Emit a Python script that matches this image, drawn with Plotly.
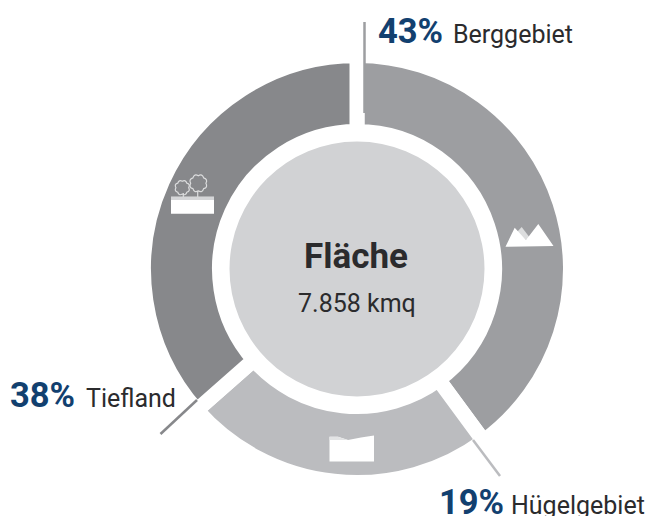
import math
import plotly.graph_objects as go

W, H = 650, 516
# Names and printed shares
categories = ["Berggebiet", "Hügelgebiet", "Tiefland"]
share_labels = ["43%", "19%", "38%"]
# Slice sizes as drawn in the picture (the ring's angles differ from the printed shares)
slice_values = [39.9, 23.6, 36.5]
slice_colors = ["#9d9ea1", "#bbbcbf", "#87888b"]
center_title = "Fläche"
center_value = "7.858 kmq"

CX, CY = 357, 269
GAP = 15
R_OUT = 206 + GAP / 2
R_IN = 145 - GAP / 2
NAVY = "#12406f"
DARK = "#2b2b2d"


def px(x):
    return x / W


def py(y):
    return 1 - y / H


fig = go.Figure(go.Pie(
    values=slice_values, labels=categories, sort=False, direction="clockwise", rotation=0,
    hole=R_IN / R_OUT, textinfo="none", hoverinfo="label", showlegend=False,
    marker=dict(colors=slice_colors, line=dict(color="white", width=GAP)),
    domain=dict(x=[px(CX - R_OUT), px(CX + R_OUT)], y=[py(CY + R_OUT), py(CY - R_OUT)]),
))


def poly(points, fill):
    d = "M" + " L".join(f"{px(x):.5f},{py(y):.5f}" for x, y in points) + " Z"
    return dict(type="path", xref="paper", yref="paper", path=d, fillcolor=fill, line=dict(width=0))


def line(x0, y0, x1, y1, color, width=2.5):
    return dict(type="line", xref="paper", yref="paper", x0=px(x0), y0=py(y0), x1=px(x1), y1=py(y1),
                line=dict(color=color, width=width))


def bumpy(cx, cy, r, n=8):
    d = ""
    for i in range(n):
        a0 = 2 * math.pi * i / n
        a1 = 2 * math.pi * (i + 1) / n
        am = (a0 + a1) / 2
        x0, y0 = cx + r * math.cos(a0), cy + r * math.sin(a0)
        x1, y1 = cx + r * math.cos(a1), cy + r * math.sin(a1)
        xm, ym = cx + 1.4 * r * math.cos(am), cy + 1.4 * r * math.sin(am)
        if i == 0:
            d += f"M{px(x0):.5f},{py(y0):.5f} "
        d += f"Q{px(xm):.5f},{py(ym):.5f} {px(x1):.5f},{py(y1):.5f} "
    return dict(type="path", xref="paper", yref="paper", path=d + "Z",
                line=dict(color="#dcddde", width=1.2), fillcolor="rgba(0,0,0,0)")


shapes = [
    dict(type="circle", xref="paper", yref="paper", x0=px(CX - 127.5), x1=px(CX + 127.5),
         y0=py(CY + 127.5), y1=py(CY - 127.5), fillcolor="#d1d2d4", line=dict(width=0)),
    # leader lines
    line(364.5, 22, 364.5, 113, slice_colors[0]),
    line(473, 440, 500, 476, slice_colors[1]),
    line(197, 400, 160.5, 434, slice_colors[2]),
    # mountain icon
    poly([(517, 232), (521.7, 227), (530, 238), (526, 240)], "#dcddde"),
    poly([(505.5, 246.7), (514.7, 227.7), (526, 240), (538.3, 224), (553.5, 246)], "white"),
    # hill icon
    poly([(329.5, 461.5), (329.5, 436.7), (338, 436.7), (348, 440), (361, 437.5), (374, 435.5), (374, 461.5)], "white"),
    poly([(329.5, 440), (329.5, 436.7), (338, 436.7), (348, 440)], "#e3e4e5"),
    # tree icon
    poly([(171, 213.7), (171, 196.7), (214, 196.7), (214, 213.7)], "white"),
    poly([(171, 200), (171, 196.7), (214, 196.7), (214, 200)], "#d5d6d8"),
    line(183.3, 193, 183.3, 197, "#dcddde", 1.2),
    line(197.7, 191, 197.7, 197, "#dcddde", 1.2),
    bumpy(182.3, 187.7, 6.4),
    bumpy(198.3, 183.3, 7.6),
]


def text(x, y, s, size, color, bold=False, anchor="left"):
    return dict(xref="paper", yref="paper", x=px(x), y=py(y), xanchor=anchor, yanchor="middle",
                text=f"<b>{s}</b>" if bold else s, showarrow=False, align=anchor,
                font=dict(family="Roboto", size=size, color=color))


annotations = [
    text(CX - 1.5, 256, center_title, 35, DARK, True, "center"),
    text(CX - 0.5, 303, center_value, 25, DARK, False, "center"),
    text(376, 31, share_labels[0], 34.5, NAVY, True),
    text(451, 34, categories[0], 25, DARK),
    text(437, 502, share_labels[1], 34.5, NAVY, True),
    text(509, 505, categories[1], 25, DARK),
    text(8, 395, share_labels[2], 34.5, NAVY, True),
    text(84, 398, categories[2], 25, DARK),
]

fig.update_layout(width=W, height=H, autosize=False, margin=dict(l=0, r=0, t=0, b=0),
                  paper_bgcolor="white", plot_bgcolor="white", shapes=shapes, annotations=annotations)
fig.write_html(
    "out.html",
    config=dict(displayModeBar=False),
    post_script="document.body.style.margin='0';document.documentElement.style.overflow='hidden';",
)
